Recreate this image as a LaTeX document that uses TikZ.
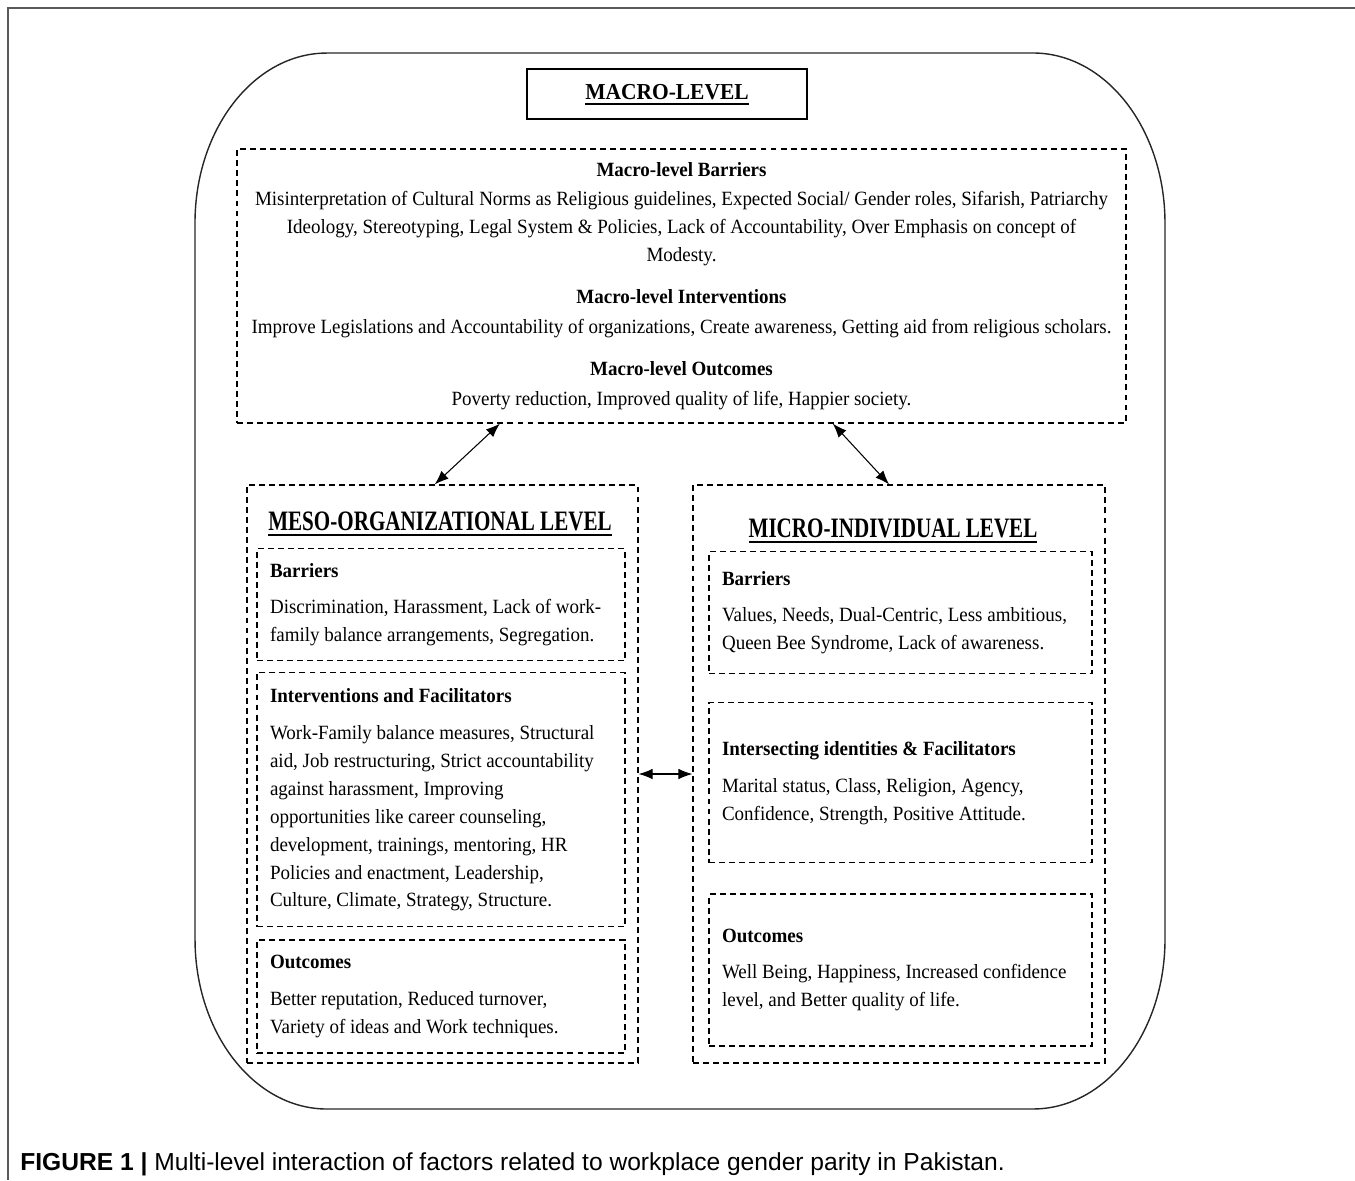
\documentclass[tikz,border=0pt]{standalone}
\usepackage{fontspec}
\setmainfont{Liberation Serif}[FakeStretch=0.94]
\newfontfamily\titlefont{Liberation Serif}[FakeStretch=0.75]
\newfontfamily\capfont{Liberation Sans}
\usetikzlibrary{arrows.meta, positioning, calc}
\definecolor{framegray}{RGB}{90,90,90}
% underlined level titles
\newcommand{\ulhead}[1]{\setbox0\hbox{#1}\rlap{\rule[-3.2pt]{\wd0}{1.1pt}}\box0}

\begin{document}
\begin{tikzpicture}[
    x=0.02cm, y=-0.02cm,
    body/.style={font=\fontsize{11.5}{15.93}\selectfont},
    dbox/.style={draw, dash pattern=on 3.4pt off 2.3pt, line width=0.7pt},
    inbox/.style={dbox, body, inner xsep=0.26cm, inner ysep=0pt,
                  text width=#1, align=flush left},
    lvlbox/.style={dbox, minimum height=11.56cm, inner sep=0pt},
    lvltitle/.style={inner sep=0pt, anchor=base,
                     font=\titlefont\bfseries\fontsize{16}{18}\selectfont},
    arr/.style={{Latex[length=8pt,width=6pt]}-{Latex[length=8pt,width=6pt]},
                line width=0.6pt}
  ]
  \useasboundingbox (0,0) rectangle (1355,1180);
  \draw[framegray, line width=0.7pt] (8,1180) -- (8,8) -- (1355,8);

  % outer rounded frame
  \draw[line width=0.8pt, black!85]
    (327,53) -- (1033,53) arc[start angle=90, end angle=0, x radius=2.64cm, y radius=3.4cm]
    -- (1165,939) arc[start angle=0, end angle=-90, x radius=2.64cm, y radius=3.4cm]
    -- (327,1109) arc[start angle=-90, end angle=-180, x radius=2.64cm, y radius=3.4cm]
    -- (195,223) arc[start angle=180, end angle=90, x radius=2.64cm, y radius=3.4cm]
    -- cycle;

  % macro level
  \node[draw, line width=0.7pt, minimum width=5.6cm, minimum height=1cm] (macrohead) at (667,94) {};
  \node[inner sep=0pt, anchor=base, font=\bfseries\fontsize{13}{15}\selectfont] (macrotitle)
    at (667,99) {\ulhead{MACRO-LEVEL}};
  \node[dbox, body, minimum width=17.78cm, minimum height=5.48cm, align=center] (macro)
    at (681.5,286) {\textbf{Macro-level Barriers}\\[1pt]
    Misinterpretation of Cultural Norms as Religious guidelines, Expected Social/ Gender roles, Sifarish, Patriarchy\\
    Ideology, Stereotyping, Legal System \& Policies, Lack of Accountability, Over Emphasis on concept of\\
    Modesty.\\[8pt]
    \textbf{Macro-level Interventions}\\[1pt]
    Improve Legislations and Accountability of organizations, Create awareness, Getting aid from religious scholars.\\[8pt]
    \textbf{Macro-level Outcomes}\\[1pt]
    Poverty reduction, Improved quality of life, Happier society.};

  % meso level
  \node[lvlbox, minimum width=7.82cm] (meso) at (442.5,774) {};
  \node[lvltitle] (mesotitle) at (440,530) {\ulhead{MESO-ORGANIZATIONAL LEVEL}};
  \node[inbox=6.84cm, minimum height=2.24cm, anchor=north] (mesobar) at (441,548)
    {\textbf{Barriers}\\[5pt]
     Discrimination, Harassment, Lack of work-\\
     family balance arrangements, Segregation.};
  \node[inbox=6.84cm, minimum height=5.08cm, below=0.22cm of mesobar] (mesoint)
    {\textbf{Interventions and Facilitators}\\[5pt]
     Work-Family balance measures, Structural\\
     aid, Job restructuring, Strict accountability\\
     against harassment, Improving\\
     opportunities like career counseling,\\
     development, trainings, mentoring, HR\\
     Policies and enactment, Leadership,\\
     Culture, Climate, Strategy, Structure.};
  \node[inbox=6.84cm, minimum height=2.26cm, below=0.24cm of mesoint] (mesoout)
    {\textbf{Outcomes}\\[5pt]
     Better reputation, Reduced turnover,\\
     Variety of ideas and Work techniques.};

  % micro level
  \node[lvlbox, minimum width=8.24cm] (micro) at (899,774) {};
  \node[lvltitle] (microtitle) at (893,537) {\ulhead{MICRO-INDIVIDUAL LEVEL}};
  \node[inbox=7.14cm, minimum height=2.44cm, anchor=north] (microbar) at (900.5,551)
    {\textbf{Barriers}\\[5pt]
     Values, Needs, Dual-Centric, Less ambitious,\\
     Queen Bee Syndrome, Lack of awareness.};
  \node[inbox=7.14cm, minimum height=3.2cm, below=0.56cm of microbar] (microint)
    {\textbf{Intersecting identities \& Facilitators}\\[5pt]
     Marital status, Class, Religion, Agency,\\
     Confidence, Strength, Positive Attitude.};
  \node[inbox=7.14cm, minimum height=3.04cm, below=0.6cm of microint] (microout)
    {\textbf{Outcomes}\\[5pt]
     Well Being, Happiness, Increased confidence\\
     level, and Better quality of life.};

  % links between levels
  \draw[arr] ($(macro.south west)!0.296!(macro.south east)$)
          -- ($(meso.north west)!0.48!(meso.north east)$);
  \draw[arr] ($(macro.south west)!0.67!(macro.south east)$)
          -- ($(micro.north west)!0.476!(micro.north east)$);
  \draw[arr] (meso.east) -- (micro.west);

  % caption
  \node[anchor=base west, inner sep=0pt, font=\capfont\fontsize{14}{16}\selectfont] (caption)
    at (20,1170) {\textbf{FIGURE 1} \textbf{|} Multi-level interaction of factors related to workplace gender parity in Pakistan.};
\end{tikzpicture}
\end{document}
